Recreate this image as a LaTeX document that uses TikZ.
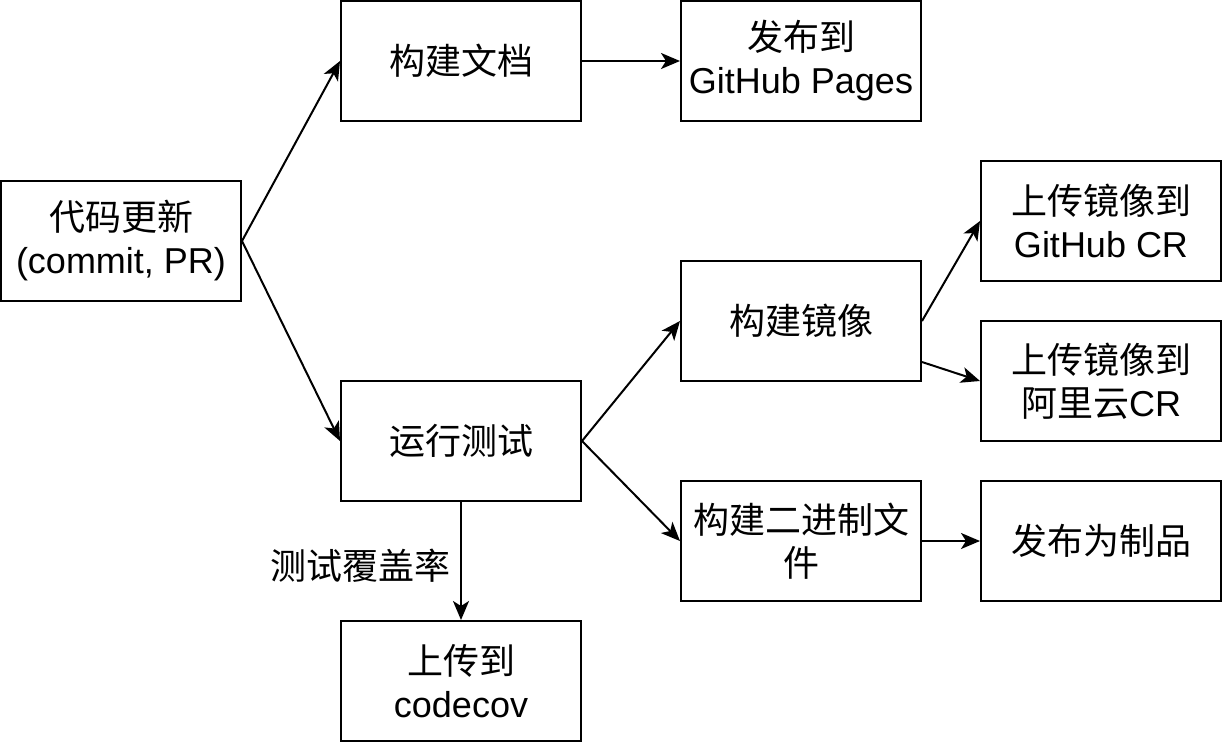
\documentclass[tikz,border=0pt]{standalone}
\usepackage{fontspec}
\setmainfont{Liberation Sans}
\newfontfamily\cjk{Noto Sans CJK SC}
\usetikzlibrary{arrows.meta,calc}
\tikzset{
  box/.style={draw=black,line width=2pt,fill=white,minimum width=240pt,minimum height=120pt,
    inner sep=0pt,align=center,font=\fontsize{36}{43}\selectfont},
  conn/.style={line width=2pt,arrows={-Stealth[length=19pt,width=16pt,inset=5pt]}},
  lbl/.style={font=\fontsize{36}{43}\selectfont\cjk,inner sep=0pt}}
\begin{document}
\begin{tikzpicture}[x=1pt,y=-1pt]
\useasboundingbox (0,0) rectangle (1222,742);
\node[box] (a) at (121,241) {{\cjk 代码更新}\\(commit, PR)};
\node[box] (b) at (461,61) {\cjk 构建文档};
\node[box] (c) at (801,61) {{\cjk 发布到}\\GitHub Pages};
\node[box] (d) at (461,441) {\cjk 运行测试};
\node[box] (e) at (461,681) {{\cjk 上传到}\\codecov};
\node[box] (f) at (801,321) {\cjk 构建镜像};
\node[box] (g) at (1101,221) {{\cjk 上传镜像到}\\GitHub CR};
\node[box] (h) at (1101,381) {{\cjk 上传镜像到}\\{\cjk 阿里云}CR};
\node[box] (i) at (801,541) {\cjk 构建二进制文\\\cjk 件};
\node[box] (j) at (1101,541) {\cjk 发布为制品};
\coordinate (f2) at ($(f.south east)+(0,-20)$);
\draw[conn] (a.east) -- (b.west);
\draw[conn] (a.east) -- (d.west);
\draw[conn] (b.east) -- (c.west);
\draw[conn] (d.east) -- (f.west);
\draw[conn] (d.east) -- (i.west);
\draw[conn] (d.south) -- (e.north);
\node[lbl,anchor=east] (l) at (451,566) {测试覆盖率};
\draw[conn] (f.east) -- (g.west);
\draw[conn] (f2) -- (h.west);
\draw[conn] (i.east) -- (j.west);
\end{tikzpicture}
\end{document}
